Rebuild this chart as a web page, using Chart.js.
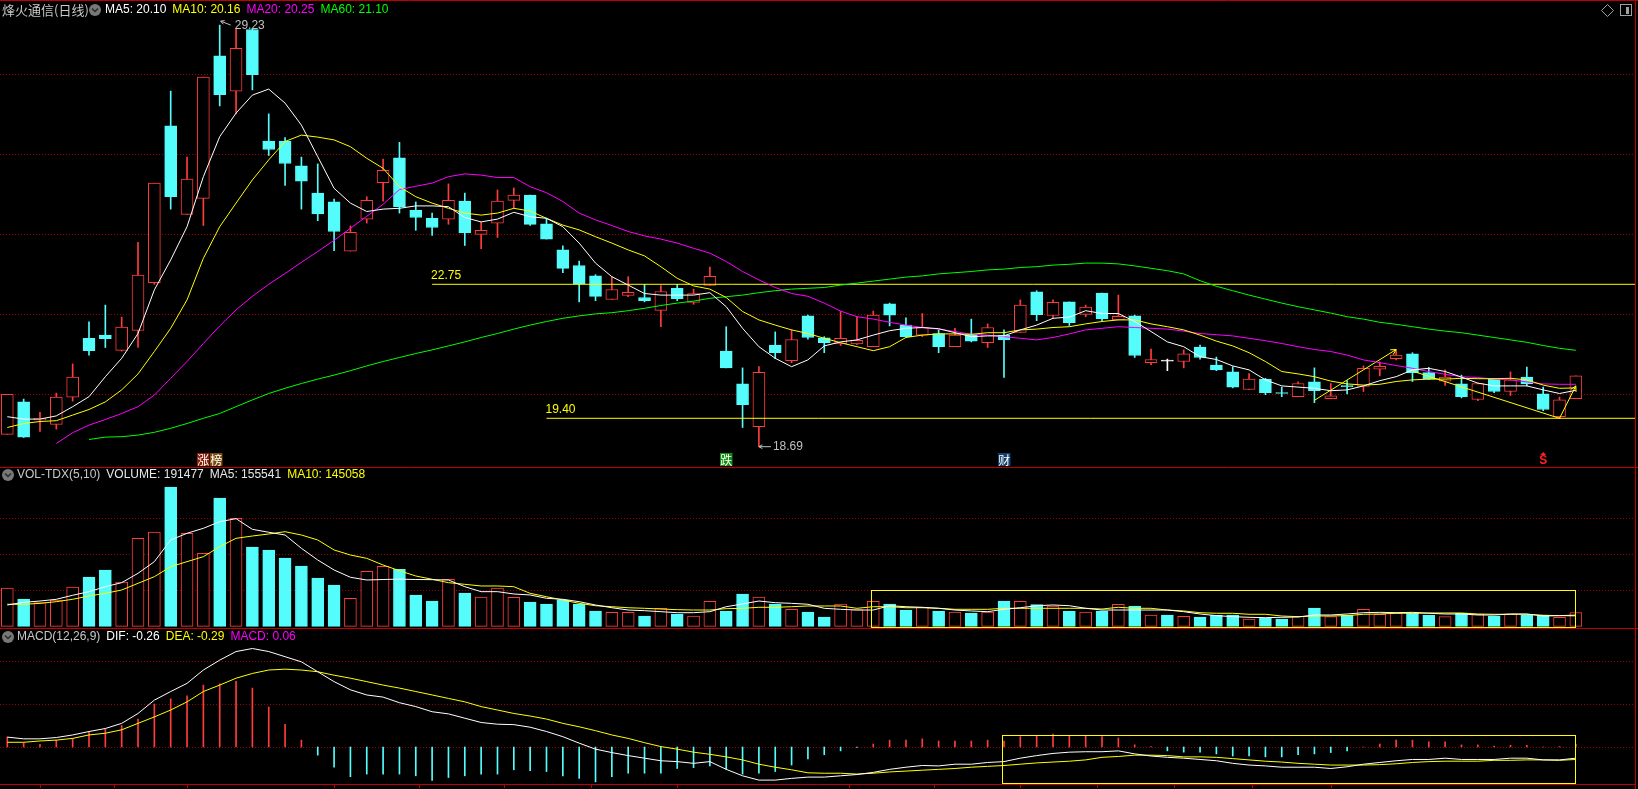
<!DOCTYPE html>
<html>
<head>
<meta charset="utf-8">
<script src="https://cdn.jsdelivr.net/npm/chart.js@4.4.1/dist/chart.umd.min.js"></script>
<style>
  html, body { margin: 0; padding: 0; background: #000; overflow: hidden; }
  .panel { position: absolute; left: 0; width: 1638px; }
  canvas { display: block; }
</style>
</head>
<body>
<div class="panel" style="top:0;height:467px"><canvas id="price" width="1638" height="467"></canvas></div>
<div class="panel" style="top:467px;height:161px"><canvas id="vol" width="1638" height="161"></canvas></div>
<div class="panel" style="top:628px;height:161px"><canvas id="macd" width="1638" height="161"></canvas></div>
<script>
// daily candles, oldest first
const opens = [19.00,19.81,19.36,19.25,19.93,21.40,21.48,21.10,21.60,22.79,
  26.71,24.50,24.90,28.46,27.58,29.12,26.33,26.33,25.71,25.03,
  24.81,23.58,24.38,25.29,25.91,24.60,24.40,24.38,24.83,24.00,
  24.28,24.85,24.98,24.26,23.61,23.22,22.96,22.37,22.47,22.42,
  22.10,22.65,22.30,22.72,21.08,20.26,19.19,21.23,20.84,21.96,
  21.41,21.26,21.26,21.19,22.26,21.73,21.48,21.52,21.19,21.49,
  21.29,21.48,21.55,22.56,21.97,22.31,22.00,22.53,21.86,21.96,
  20.79,20.83,20.82,21.18,20.73,20.56,20.12,20.38,20.03,19.94,
  20.31,19.89,20.20,20.20,20.63,20.89,21.01,20.54,20.33,20.26,
  19.87,20.38,20.07,20.43,20.01,19.44,19.89];
const highs = [20.00,19.88,19.55,20.03,20.76,21.81,22.23,21.93,23.80,25.28,
  27.58,25.93,27.93,29.23,29.15,29.15,27.01,26.42,25.93,25.76,
  24.88,24.21,24.94,25.88,26.30,24.81,24.53,25.26,25.03,24.30,
  25.11,25.16,24.98,24.40,23.71,23.33,22.99,22.94,22.94,22.75,
  22.72,22.75,22.63,23.18,21.69,20.66,20.69,21.56,21.61,21.98,
  21.44,22.07,21.93,22.08,22.28,21.91,22.02,21.61,21.65,21.88,
  21.76,21.61,22.36,22.59,22.36,22.31,22.23,22.53,22.48,21.98,
  21.13,20.88,21.11,21.23,20.93,20.69,20.52,20.40,20.18,20.31,
  20.66,20.27,20.34,20.71,20.81,21.12,21.04,20.67,20.61,20.48,
  20.28,20.40,20.56,20.68,20.18,19.93,20.46];
const lows = [19.00,18.92,19.07,19.13,19.83,20.98,21.17,21.08,21.17,22.75,
  24.63,24.50,24.22,27.21,27.01,27.61,25.97,25.22,24.63,24.34,
  23.59,23.58,24.28,24.83,24.53,24.10,23.97,24.25,23.72,23.64,
  23.92,24.65,24.22,23.88,23.04,22.31,22.34,22.37,22.44,22.31,
  21.69,22.34,22.25,22.72,20.66,19.17,18.69,20.89,20.79,21.38,
  21.04,21.22,21.24,21.19,21.71,21.42,21.44,21.04,21.19,21.31,
  21.17,20.42,21.55,21.84,21.91,21.72,21.94,21.84,21.86,20.92,
  20.74,20.59,20.66,20.88,20.59,20.16,20.12,19.99,19.94,19.94,
  19.79,19.89,20.01,20.07,20.46,20.86,20.32,20.37,20.22,19.91,
  19.84,20.04,19.97,20.21,19.59,19.40,19.89];
const closes = [20.00,18.93,19.40,19.93,20.43,21.09,21.39,21.68,22.98,25.28,
  24.94,25.38,27.93,27.49,28.65,27.99,26.12,25.77,25.33,24.51,
  24.07,24.05,24.85,25.60,24.69,24.42,24.17,24.85,24.04,24.10,
  24.83,24.98,24.25,23.88,23.15,22.76,22.45,22.62,22.55,22.34,
  22.57,22.39,22.52,22.95,20.66,19.74,20.55,21.04,21.37,21.42,
  21.29,21.40,21.35,21.98,21.98,21.44,21.67,21.19,21.48,21.33,
  21.67,21.36,22.23,21.99,22.30,21.79,22.18,21.89,21.95,20.97,
  20.87,20.83,21.01,20.92,20.61,20.18,20.38,20.04,20.02,20.27,
  20.09,19.96,20.19,20.65,20.70,20.98,20.54,20.38,20.43,19.94,
  20.27,20.07,20.36,20.26,19.62,19.86,20.46];

const ma5 = [19.44,19.38,19.38,19.46,19.69,19.94,20.44,20.90,21.52,22.61,
  23.36,24.19,25.44,26.44,27.03,27.48,27.63,27.28,26.73,25.94,
  25.15,24.78,24.57,24.63,24.65,24.71,24.71,24.69,24.42,24.31,
  24.38,24.55,24.44,24.40,24.19,23.78,23.28,22.94,22.73,22.52,
  22.48,22.48,22.48,22.54,22.19,21.65,21.19,20.90,20.69,20.86,
  21.21,21.31,21.36,21.48,21.59,21.65,21.67,21.64,21.54,21.44,
  21.46,21.46,21.61,21.73,21.90,21.93,22.09,22.02,22.02,21.82,
  21.57,21.31,21.19,20.94,20.87,20.71,20.61,20.36,20.21,20.18,
  20.15,20.09,20.11,20.21,20.34,20.44,20.61,20.65,20.57,20.43,
  20.28,20.21,20.21,20.21,20.11,20.02,20.10];
const ma10 = [19.17,19.27,19.32,19.34,19.48,19.62,19.81,20.11,20.51,21.07,
  21.65,22.36,23.40,24.19,24.78,25.36,25.86,26.32,26.48,26.43,
  26.36,26.19,25.90,25.65,25.19,24.94,24.78,24.65,24.53,24.48,
  24.53,24.65,24.58,24.40,24.23,24.11,23.94,23.78,23.61,23.46,
  23.19,22.90,22.71,22.63,22.42,22.07,21.86,21.73,21.61,21.52,
  21.40,21.29,21.19,21.09,21.19,21.42,21.48,21.51,21.51,21.50,
  21.54,21.54,21.61,21.63,21.67,21.69,21.76,21.82,21.86,21.86,
  21.76,21.69,21.61,21.48,21.33,21.21,21.04,20.82,20.57,20.51,
  20.44,20.33,20.26,20.23,20.25,20.32,20.36,20.38,20.38,20.40,
  20.39,20.39,20.40,20.36,20.23,20.15,20.16];
const ma20 = [null,null,null,18.77,19.04,19.23,19.37,19.52,19.69,19.98,
  20.40,20.82,21.27,21.71,22.11,22.45,22.75,23.02,23.30,23.57,
  23.85,24.15,24.45,24.75,25.12,25.20,25.28,25.44,25.51,25.48,
  25.42,25.42,25.19,25.04,24.82,24.53,24.36,24.22,24.07,23.96,
  23.88,23.78,23.65,23.53,23.32,23.07,22.86,22.67,22.52,22.45,
  22.28,22.08,21.94,21.88,21.80,21.73,21.67,21.63,21.57,21.50,
  21.48,21.44,21.40,21.36,21.42,21.51,21.61,21.65,21.69,21.67,
  21.65,21.63,21.58,21.52,21.49,21.46,21.40,21.34,21.27,21.19,
  21.12,21.07,20.98,20.86,20.79,20.72,20.65,20.57,20.50,20.44,
  20.42,20.38,20.36,20.31,20.26,20.25,20.25];
const ma60 = [null,null,null,null,null,18.87,18.93,18.94,18.98,19.05,
  19.15,19.27,19.40,19.52,19.69,19.86,20.02,20.15,20.27,20.38,
  20.48,20.59,20.71,20.82,20.92,21.02,21.11,21.21,21.31,21.42,
  21.52,21.63,21.73,21.82,21.90,21.96,22.01,22.04,22.09,22.15,
  22.22,22.28,22.33,22.40,22.44,22.48,22.54,22.59,22.63,22.65,
  22.67,22.73,22.78,22.83,22.88,22.93,22.96,23.01,23.04,23.07,
  23.11,23.13,23.17,23.19,23.23,23.25,23.28,23.28,23.26,23.21,
  23.15,23.09,23.01,22.84,22.70,22.59,22.48,22.38,22.28,22.19,
  22.11,22.03,21.94,21.88,21.80,21.75,21.69,21.63,21.58,21.54,
  21.48,21.42,21.36,21.30,21.22,21.15,21.10];

const volumes = [532000,379000,328000,365000,546000,685000,782000,615000,1222000,1310000,
  1935000,1292000,1014000,1782000,1500000,1101000,1060000,949000,838000,671000,
  574000,389000,764000,833000,792000,435000,351000,653000,463000,407000,
  532000,403000,338000,310000,365000,310000,213000,194000,194000,143000,
  250000,171000,143000,347000,213000,449000,407000,310000,236000,199000,
  129000,310000,231000,347000,310000,226000,264000,213000,199000,185000,
  199000,351000,347000,300000,282000,213000,199000,211000,306000,282000,
  157000,157000,139000,129000,153000,157000,101000,111000,101000,139000,
  254000,134000,157000,236000,167000,185000,185000,153000,134000,181000,
  167000,143000,171000,157000,157000,125000,191477];
const volMa5 = [296000,333000,351000,375000,431000,481000,550000,606000,736000,898000,
  1199000,1292000,1361000,1453000,1495000,1347000,1306000,1268000,1083000,921000,
  782000,681000,643000,650000,655000,650000,648000,643000,550000,481000,
  481000,449000,435000,389000,375000,342000,296000,258000,226000,217000,
  203000,189000,189000,203000,272000,310000,351000,328000,319000,306000,
  250000,236000,226000,226000,286000,272000,264000,250000,226000,213000,
  203000,236000,258000,286000,296000,286000,250000,226000,226000,226000,
  226000,226000,203000,171000,148000,134000,125000,120000,125000,129000,
  157000,157000,171000,189000,194000,189000,194000,181000,171000,171000,
  157000,157000,171000,171000,143000,148000,155541];
const volMa10 = [306000,306000,319000,342000,375000,421000,458000,504000,597000,689000,
  828000,898000,967000,1106000,1222000,1254000,1282000,1314000,1268000,1199000,
  1060000,990000,944000,851000,772000,699000,653000,606000,583000,560000,
  560000,550000,458000,411000,365000,319000,286000,272000,258000,250000,
  240000,231000,226000,226000,245000,250000,264000,264000,272000,282000,
  282000,282000,250000,272000,272000,258000,258000,250000,236000,236000,
  236000,250000,250000,250000,250000,250000,250000,240000,264000,250000,
  250000,226000,213000,189000,181000,181000,167000,167000,143000,134000,
  143000,143000,148000,167000,171000,181000,181000,185000,185000,185000,
  171000,167000,167000,167000,153000,148000,145058];

const dif = [0.23,0.19,0.19,0.22,0.28,0.36,0.43,0.55,0.78,1.09,
  1.29,1.48,1.79,2.02,2.22,2.29,2.22,2.10,1.98,1.75,
  1.52,1.33,1.21,1.16,1.03,0.94,0.82,0.77,0.67,0.57,
  0.53,0.52,0.46,0.36,0.24,0.09,-0.05,-0.13,-0.20,-0.26,
  -0.32,-0.34,-0.38,-0.34,-0.52,-0.67,-0.77,-0.77,-0.73,-0.70,
  -0.70,-0.67,-0.64,-0.59,-0.52,-0.47,-0.43,-0.44,-0.40,-0.40,
  -0.36,-0.34,-0.26,-0.20,-0.15,-0.12,-0.11,-0.11,-0.09,-0.16,
  -0.21,-0.24,-0.26,-0.29,-0.32,-0.38,-0.42,-0.44,-0.47,-0.47,
  -0.47,-0.50,-0.46,-0.40,-0.36,-0.32,-0.29,-0.29,-0.26,-0.29,
  -0.29,-0.29,-0.26,-0.26,-0.30,-0.30,-0.26];
const dea = [0.11,0.11,0.14,0.16,0.20,0.28,0.32,0.40,0.55,0.70,
  0.86,1.05,1.29,1.44,1.60,1.71,1.79,1.81,1.79,1.75,
  1.67,1.60,1.52,1.44,1.37,1.29,1.21,1.13,1.05,0.94,
  0.86,0.78,0.72,0.65,0.55,0.47,0.38,0.28,0.20,0.10,
  0.01,-0.05,-0.12,-0.17,-0.23,-0.30,-0.40,-0.47,-0.53,-0.60,
  -0.61,-0.61,-0.63,-0.61,-0.58,-0.56,-0.54,-0.52,-0.50,-0.47,
  -0.45,-0.43,-0.40,-0.37,-0.35,-0.33,-0.30,-0.24,-0.22,-0.19,
  -0.19,-0.20,-0.23,-0.23,-0.24,-0.27,-0.30,-0.33,-0.35,-0.38,
  -0.40,-0.42,-0.42,-0.42,-0.41,-0.39,-0.36,-0.34,-0.33,-0.33,
  -0.33,-0.31,-0.31,-0.30,-0.30,-0.31,-0.29];
const macdBars = [0.23,0.10,0.06,0.16,0.20,0.34,0.42,0.50,0.65,1.00,
  1.12,1.19,1.44,1.47,1.53,1.37,0.93,0.53,0.16,-0.19,
  -0.47,-0.69,-0.63,-0.63,-0.63,-0.67,-0.78,-0.71,-0.67,-0.63,
  -0.63,-0.53,-0.55,-0.57,-0.67,-0.73,-0.81,-0.69,-0.61,-0.61,
  -0.61,-0.50,-0.48,-0.44,-0.52,-0.63,-0.61,-0.57,-0.42,-0.28,
  -0.18,-0.09,-0.01,0.07,0.16,0.16,0.19,0.14,0.14,0.14,
  0.16,0.14,0.24,0.26,0.30,0.26,0.26,0.24,0.21,0.05,
  0.01,-0.09,-0.12,-0.12,-0.16,-0.21,-0.21,-0.23,-0.23,-0.18,
  -0.16,-0.13,-0.09,0.00,0.07,0.16,0.16,0.12,0.12,0.05,
  0.05,0.02,0.04,0.04,0.00,0.01,0.06];

const priceGrid = [20, 22, 24, 26, 28];
const volGrid = [500000, 1000000, 1500000];
const macdGrid = [0, 1, 2];
// small date ticks under the last panel (bar index)
const dateTicks = [2, 6.5, 11, 20, 25.2, 30.4, 35.7, 41, 51.5, 56.7, 62, 66.7, 71.4, 76.2, 81];

// drawn objects on the price panel: [start index, price]
const levels = [[26, 22.75], [33, 19.40]];
const waveUp = [[80, 19.85], [85, 21.12]];
const waveDown = [[86, 20.58], [95, 19.40], [96, 20.21]];
const markers = [[12, '涨榜'], [44, '跌'], [61, '财'], [94, '$']];
// rectangles: [from index, to index, top value, bottom value]
const volBox = [53, 96, 500000, -23000];
const macdBox = [61, 96, 0.28, -0.85];

const RED = '#ff3c3c';
const CYAN = '#54fcfc';
const YELLOW = '#ffff00';
const GRID_RED = '#a00000';
const LINE_RED = '#c00000';
const LATIN = '12px "Liberation Sans", Arial, sans-serif';
const CJK = '13px "Noto Sans CJK SC", sans-serif';

const X_MIN = -0.447, X_MAX = 99.62;

function dir(i) {
  return closes[i] > opens[i] ? 1 : (closes[i] < opens[i] ? -1 : 0);
}
function candleColor(i) {
  const d = dir(i);
  return d > 0 ? RED : (d < 0 ? CYAN : '#ffffff');
}
function pts(arr) {
  return arr.map((v, i) => ({x: i, y: v}));
}
function lineSet(arr, color) {
  return {type: 'line', order: 0, data: pts(arr), borderColor: color, borderWidth: 1,
    pointRadius: 0, tension: 0, spanGaps: false};
}
function pairSet(list, color) {
  return {type: 'line', order: 0, data: list.map(p => ({x: p[0], y: p[1]})), borderColor: color,
    borderWidth: 1, pointRadius: 0, tension: 0};
}

function options(ymin, ymax, padBottom) {
  return {
    responsive: false,
    animation: false,
    events: [],
    layout: {padding: {left: 0, right: 3, top: 0, bottom: padBottom}},
    plugins: {legend: {display: false}, tooltip: {enabled: false}},
    scales: {
      x: {type: 'linear', display: false, min: X_MIN, max: X_MAX, offset: false},
      y: {type: 'linear', display: false, min: ymin, max: ymax, beginAtZero: false}
    }
  };
}

function gridPlugin(values) {
  return {
    id: 'dotgrid',
    beforeDatasetsDraw(chart) {
      const ctx = chart.ctx, a = chart.chartArea, y = chart.scales.y;
      ctx.save();
      ctx.strokeStyle = GRID_RED;
      ctx.lineWidth = 1;
      ctx.setLineDash([1, 2]);
      values.forEach(v => {
        const py = Math.round(y.getPixelForValue(v)) + 0.5;
        ctx.beginPath();
        ctx.moveTo(a.left, py);
        ctx.lineTo(a.right, py);
        ctx.stroke();
      });
      ctx.restore();
    }
  };
}

function drawIcon(ctx, cx, cy) {
  ctx.fillStyle = '#787878';
  ctx.beginPath();
  ctx.arc(cx, cy, 6, 0, Math.PI * 2);
  ctx.fill();
  ctx.strokeStyle = '#2a2a2a';
  ctx.lineWidth = 1.5;
  ctx.beginPath();
  ctx.moveTo(cx - 3, cy - 1.5);
  ctx.lineTo(cx, cy + 1.5);
  ctx.lineTo(cx + 3, cy - 1.5);
  ctx.stroke();
}

function drawParts(ctx, x, y, parts) {
  ctx.textBaseline = 'middle';
  ctx.textAlign = 'left';
  parts.forEach(p => {
    ctx.font = p.font || LATIN;
    ctx.fillStyle = p.color;
    ctx.fillText(p.text, x, y);
    x += ctx.measureText(p.text).width + 6;
  });
}

function arrowHead(ctx, x1, y1, x2, y2, size) {
  const ang = Math.atan2(y2 - y1, x2 - x1);
  ctx.beginPath();
  ctx.moveTo(x2, y2);
  ctx.lineTo(x2 - size * Math.cos(ang - 0.5), y2 - size * Math.sin(ang - 0.5));
  ctx.moveTo(x2, y2);
  ctx.lineTo(x2 - size * Math.cos(ang + 0.5), y2 - size * Math.sin(ang + 0.5));
  ctx.stroke();
}

function borderPlugin(drawBottom) {
  return {
    id: 'frame',
    afterDraw(chart) {
      const ctx = chart.ctx, a = chart.chartArea;
      ctx.save();
      ctx.strokeStyle = LINE_RED;
      ctx.lineWidth = 1;
      ctx.beginPath();
      ctx.moveTo(0, 0.5);
      ctx.lineTo(chart.width, 0.5);
      ctx.moveTo(a.right + 0.5, 0);
      ctx.lineTo(a.right + 0.5, chart.height);
      if (drawBottom) {
        ctx.moveTo(0, a.bottom + 0.5);
        ctx.lineTo(a.right, a.bottom + 0.5);
        // date ticks hanging under the bottom line
        dateTicks.forEach(t => {
          const tx = Math.round(chart.scales.x.getPixelForValue(t)) + 0.5;
          ctx.moveTo(tx, a.bottom + 1);
          ctx.lineTo(tx, a.bottom + 4);
        });
      }
      ctx.stroke();
      ctx.restore();
    }
  };
}

const fmt2 = v => v.toFixed(2);

const pricePlugin = {
  id: 'priceText',
  afterDraw(chart) {
    const ctx = chart.ctx, a = chart.chartArea, xs = chart.scales.x, ys = chart.scales.y;
    ctx.save();
    // title row
    drawParts(ctx, 2, 10, [{text: '烽火通信(日线)', color: '#c8c8c8', font: CJK}]);
    drawIcon(ctx, 95, 10);
    drawParts(ctx, 105, 10, [
      {text: 'MA5: ' + fmt2(ma5[ma5.length - 1]), color: '#ffffff'},
      {text: 'MA10: ' + fmt2(ma10[ma10.length - 1]), color: YELLOW},
      {text: 'MA20: ' + fmt2(ma20[ma20.length - 1]), color: '#ff00ff'},
      {text: 'MA60: ' + fmt2(ma60[ma60.length - 1]), color: '#00ff00'}
    ]);

    // top right tools
    ctx.strokeStyle = '#a0a0a0';
    ctx.lineWidth = 1;
    ctx.beginPath();
    ctx.moveTo(1607.5, 4.5); ctx.lineTo(1613.5, 10.5); ctx.lineTo(1607.5, 16.5); ctx.lineTo(1601.5, 10.5);
    ctx.closePath();
    ctx.stroke();
    ctx.strokeRect(1620.5, 4.5, 11, 11);
    ctx.fillStyle = '#a0a0a0';
    ctx.fillRect(1626, 7, 3, 7);

    // level lines labels
    ctx.font = LATIN;
    ctx.fillStyle = YELLOW;
    ctx.textBaseline = 'middle';
    levels.forEach(([i, v]) => {
      ctx.fillText(v.toFixed(2), xs.getPixelForValue(i) - 1, ys.getPixelForValue(v) - 9);
    });

    // wave arrows
    ctx.strokeStyle = YELLOW;
    [waveUp, waveDown].forEach(w => {
      const p1 = w[w.length - 2], p2 = w[w.length - 1];
      arrowHead(ctx, xs.getPixelForValue(p1[0]), ys.getPixelForValue(p1[1]),
        xs.getPixelForValue(p2[0]), ys.getPixelForValue(p2[1]), 6);
    });

    // highest / lowest marks
    const hi = Math.max(...highs), lo = Math.min(...lows);
    const hiI = highs.indexOf(hi), loI = lows.indexOf(lo);
    ctx.strokeStyle = '#c0c0c0';
    ctx.fillStyle = '#c0c0c0';
    let cx = xs.getPixelForValue(hiI), cy = ys.getPixelForValue(hi);
    ctx.beginPath(); ctx.moveTo(cx + 11, cy); ctx.lineTo(cx + 1, cy - 4); ctx.stroke();
    arrowHead(ctx, cx + 11, cy, cx + 1, cy - 4, 4);
    ctx.fillText(fmt2(hi), cx + 15, cy + 1);
    cx = xs.getPixelForValue(loI); cy = ys.getPixelForValue(lo);
    ctx.beginPath(); ctx.moveTo(cx + 12, cy); ctx.lineTo(cx, cy); ctx.stroke();
    arrowHead(ctx, cx + 12, cy, cx, cy, 4);
    ctx.fillText(fmt2(lo), cx + 14, cy);

    // event markers along the bottom
    const bg = {'涨': '#8a1c08', '榜': '#7a4a08', '跌': '#108c10', '财': '#14406e'};
    const top = a.bottom - 14;
    markers.forEach(([i, label]) => {
      const mx = xs.getPixelForValue(i);
      if (label === '$') {
        ctx.fillStyle = '#ff2020';
        ctx.font = 'bold 12px "Liberation Sans", sans-serif';
        ctx.textAlign = 'center';
        ctx.fillText('S', mx, top + 8);
        ctx.beginPath();
        ctx.moveTo(mx, top - 1); ctx.lineTo(mx + 3, top + 2); ctx.lineTo(mx - 3, top + 2);
        ctx.closePath(); ctx.fill();
        ctx.textAlign = 'left';
        return;
      }
      ctx.font = '12px "Noto Sans CJK SC", sans-serif';
      [...label].forEach((ch, k) => {
        const bx = Math.round(mx - 6 + k * 12.5);
        ctx.fillStyle = bg[ch];
        ctx.fillRect(bx, top, 12.5, 13);
        ctx.fillStyle = '#ffffff';
        ctx.textAlign = 'center';
        ctx.fillText(ch, bx + 6.25, top + 7);
      });
      ctx.textAlign = 'left';
    });
    ctx.restore();
  }
};

function boxPlugin(box) {
  return {
    id: 'box',
    afterDatasetsDraw(chart) {
      const ctx = chart.ctx, xs = chart.scales.x, ys = chart.scales.y;
      const x1 = Math.round(xs.getPixelForValue(box[0]) - 2) + 0.5;
      const x2 = Math.round(xs.getPixelForValue(box[1])) - 0.5;
      const y1 = Math.round(ys.getPixelForValue(box[2])) + 0.5;
      const y2 = Math.round(ys.getPixelForValue(box[3])) - 0.5;
      ctx.save();
      ctx.strokeStyle = YELLOW;
      ctx.lineWidth = 1;
      ctx.strokeRect(x1, y1, x2 - x1, y2 - y1);
      ctx.restore();
    }
  };
}

function titlePlugin(parts, cy) {
  return {
    id: 'title',
    afterDraw(chart) {
      const ctx = chart.ctx;
      ctx.save();
      drawIcon(ctx, 8, cy);
      drawParts(ctx, 17, cy, parts);
      ctx.restore();
    }
  };
}

// price panel
new Chart(document.getElementById('price'), {
  type: 'bar',
  data: {
    datasets: [
      lineSet(ma5, '#ffffff'),
      lineSet(ma10, YELLOW),
      lineSet(ma20, '#ff00ff'),
      lineSet(ma60, '#00ff00'),
      pairSet([levels[0], [X_MAX, levels[0][1]]], YELLOW),
      pairSet([levels[1], [X_MAX, levels[1][1]]], YELLOW),
      pairSet(waveUp, YELLOW),
      pairSet(waveDown, YELLOW),
      {
        type: 'bar', order: 1, grouped: false, barThickness: 12, minBarLength: 1,
        data: opens.map((o, i) => ({x: i, y: [o, closes[i]]})),
        borderWidth: 1, borderSkipped: false,
        borderColor: c => candleColor(c.dataIndex),
        backgroundColor: c => dir(c.dataIndex) > 0 ? '#000000' : candleColor(c.dataIndex)
      },
      {
        type: 'bar', order: 2, grouped: false, barThickness: 1,
        data: lows.map((l, i) => ({x: i, y: [l, highs[i]]})),
        borderWidth: 0,
        backgroundColor: c => candleColor(c.dataIndex)
      }
    ]
  },
  options: options(18.1825, 29.8575, 0),
  plugins: [gridPlugin(priceGrid), borderPlugin(false), pricePlugin]
});

// volume panel
new Chart(document.getElementById('vol'), {
  type: 'bar',
  data: {
    datasets: [
      lineSet(volMa5, '#ffffff'),
      lineSet(volMa10, YELLOW),
      {
        type: 'bar', order: 1, grouped: false, barThickness: 12,
        data: pts(volumes),
        borderWidth: 1, borderSkipped: false,
        borderColor: c => dir(c.dataIndex) > 0 ? RED : CYAN,
        backgroundColor: c => dir(c.dataIndex) > 0 ? '#000000' : CYAN
      }
    ]
  },
  options: options(-23600, 2212500, 0),
  plugins: [gridPlugin(volGrid), borderPlugin(false), boxPlugin(volBox),
    titlePlugin([
      {text: 'VOL-TDX(5,10)', color: '#c8c8c8'},
      {text: 'VOLUME: ' + volumes[volumes.length - 1], color: '#e8e8e8'},
      {text: 'MA5: ' + volMa5[volMa5.length - 1], color: '#e8e8e8'},
      {text: 'MA10: ' + volMa10[volMa10.length - 1], color: YELLOW}
    ], 8)]
});

// MACD panel
new Chart(document.getElementById('macd'), {
  type: 'bar',
  data: {
    datasets: [
      lineSet(dif, '#ffffff'),
      lineSet(dea, YELLOW),
      {
        type: 'bar', order: 1, grouped: false, barThickness: 1,
        data: pts(macdBars),
        borderWidth: 0,
        backgroundColor: c => macdBars[c.dataIndex] >= 0 ? RED : CYAN
      }
    ]
  },
  options: options(-0.8605, 2.7674, 5),
  plugins: [gridPlugin(macdGrid), borderPlugin(true), boxPlugin(macdBox),
    titlePlugin([
      {text: 'MACD(12,26,9)', color: '#c8c8c8'},
      {text: 'DIF: ' + fmt2(dif[dif.length - 1]), color: '#ffffff'},
      {text: 'DEA: ' + fmt2(dea[dea.length - 1]), color: YELLOW},
      {text: 'MACD: ' + fmt2(macdBars[macdBars.length - 1]), color: '#ff00ff'}
    ], 9)]
});
</script>
</body>
</html>
